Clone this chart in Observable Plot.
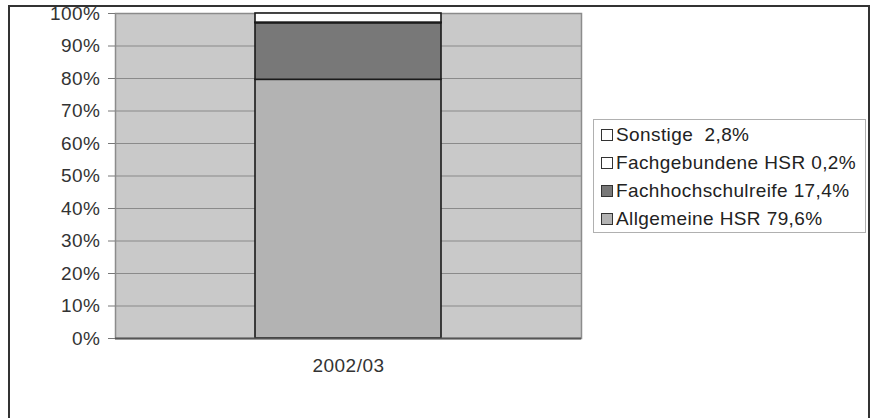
<!DOCTYPE html>
<html>
<head>
<meta charset="utf-8">
<script src="https://cdn.jsdelivr.net/npm/d3@7"></script>
<script src="https://cdn.jsdelivr.net/npm/@observablehq/plot@0.6"></script>
<style>
  html, body { margin: 0; padding: 0; background: #fff; }
  #wrap { position: relative; width: 877px; height: 418px; overflow: hidden; font-family: "Liberation Sans", Arial, sans-serif; }
  #border { position: absolute; left: 8px; top: 5px; width: 862px; height: 420px; border: 2px solid #333; box-sizing: border-box; pointer-events: none; }
  #legend { position: absolute; left: 593px; top: 119px; width: 273px; height: 114px; border: 1px solid #b0b0b0; box-sizing: border-box; background: #fff; padding-top: 1px; }
  .item { display: flex; align-items: center; height: 28px; padding-left: 7px; font-size: 19px; letter-spacing: 0.4px; color: #222; white-space: pre; }
  .sw { width: 10px; height: 10px; border: 1.5px solid #333; margin-right: 3px; box-sizing: content-box; }
  svg text { letter-spacing: 0.5px; }
</style>
</head>
<body>
<div id="wrap">
  <div id="chart"></div>
  <div id="legend"></div>
  <div id="border"></div>
</div>
<script>
const categories = ["2002/03"];
const series = ["Allgemeine HSR", "Fachhochschulreife", "Fachgebundene HSR", "Sonstige"];
const values = [79.6, 17.4, 0.2, 2.8];
const legendLabels = ["Allgemeine HSR 79,6%", "Fachhochschulreife 17,4%", "Fachgebundene HSR 0,2%", "Sonstige  2,8%"];
const colors = ["#b3b3b3", "#787878", "#ffffff", "#ffffff"];
const yTicks = [0, 10, 20, 30, 40, 50, 60, 70, 80, 90, 100];

const data = series.map((s, i) => ({cat: categories[0], series: s, value: values[i]}));

const chart = Plot.plot({
  width: 877,
  height: 418,
  marginLeft: 115,
  marginRight: 296,
  marginTop: 13,
  marginBottom: 80,
  style: {fontFamily: "'Liberation Sans', Arial, sans-serif", background: "transparent"},
  x: {type: "band", domain: categories, padding: 0.4286},
  y: {domain: [0, 100]},
  color: {domain: series, range: colors},
  marks: [
    Plot.frame({fill: "#c9c9c9", stroke: "#8c8c8c", strokeWidth: 1.5}),
    Plot.ruleY(yTicks, {stroke: "#8a8a8a", strokeWidth: 1.2}),
    Plot.barY(data, {x: "cat", y: "value", fill: "series", stroke: "#1a1a1a", strokeWidth: 1.6}),
    Plot.ruleY([0], {stroke: "#555", strokeWidth: 2}),
    Plot.axisY({ticks: yTicks, tickFormat: d => d + "%", tickSize: 7, tickPadding: 8, fontSize: 19, stroke: "#777", color: "#333", label: null}),
    Plot.axisX({tickSize: 0, tickPadding: 20, fontSize: 19, color: "#333", label: null})
  ]
});
document.getElementById("chart").appendChild(chart);

const legend = document.getElementById("legend");
for (let i = series.length - 1; i >= 0; i--) {
  const item = document.createElement("div");
  item.className = "item";
  const sw = document.createElement("span");
  sw.className = "sw";
  sw.style.background = colors[i];
  const t = document.createElement("span");
  t.textContent = legendLabels[i];
  item.appendChild(sw);
  item.appendChild(t);
  legend.appendChild(item);
}
</script>
</body>
</html>
